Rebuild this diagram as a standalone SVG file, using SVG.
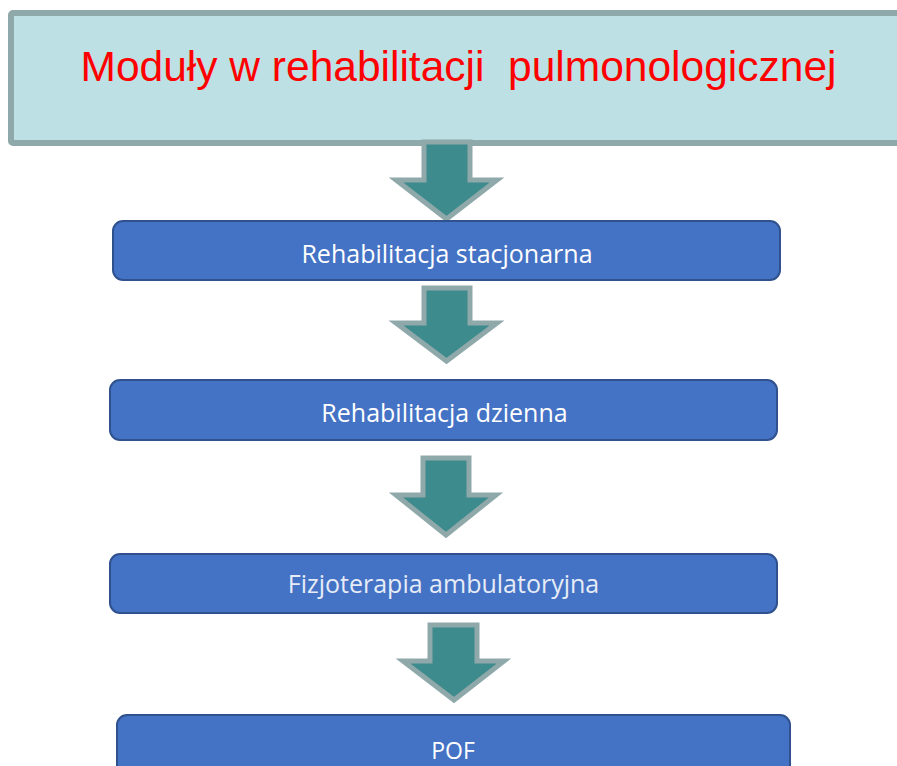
<svg xmlns="http://www.w3.org/2000/svg" width="897" height="766" viewBox="0 0 897 766">
<style>
.box{fill:#4472c4;stroke:#2f528f;stroke-width:2}
.lbl{font-family:"Open Sans","Noto Sans",sans-serif;font-size:25px;fill:#ffffff;text-anchor:middle}
.arr{fill:#3d8b8d;stroke:#8fa8aa;stroke-width:5;stroke-linejoin:miter}
</style>
<rect width="897" height="766" fill="#ffffff"/>
<g id="title">
<rect x="11" y="13" width="900" height="130" rx="2" fill="#bce0e3" stroke="#8fa8aa" stroke-width="6"/>
<text x="458.5" y="81" font-family="Liberation Sans, Arial, sans-serif" font-size="42.5" fill="#ff0000" text-anchor="middle" xml:space="preserve">Moduły w rehabilitacji  pulmonologicznej</text>
</g>
<g id="connectors">
<path class="arr" d="M424,142 L470,142 L470,180 L497,180 L446.5,219 L396,180 L424,180 Z"/>
<path class="arr" d="M424,288 L470,288 L470,323 L497,323 L446.5,361 L396,323 L424,323 Z"/>
<path class="arr" d="M423,458 L469,458 L469,495 L496,495 L446,535 L396,495 L423,495 Z"/>
<path class="arr" d="M430,625 L477,625 L477,661 L504,661 L454,700 L403,661 L430,661 Z"/>
</g>
<g id="n1">
<rect class="box" x="113" y="221" width="667" height="59" rx="10"/>
<text class="lbl" x="447" y="263">Rehabilitacja stacjonarna</text>
</g>
<g id="n2">
<rect class="box" x="110" y="380" width="667" height="60" rx="10"/>
<text class="lbl" x="444.5" y="422">Rehabilitacja dzienna</text>
</g>
<g id="n3">
<rect class="box" x="110" y="554" width="667" height="59" rx="10"/>
<text class="lbl" x="443.5" y="593" style="fill:#e6ecf7">Fizjoterapia ambulatoryjna</text>
</g>
<g id="n4">
<rect class="box" x="117" y="715" width="673" height="70" rx="10"/>
<text class="lbl" x="453" y="759" style="font-size:23px">POF</text>
</g>
</svg>
